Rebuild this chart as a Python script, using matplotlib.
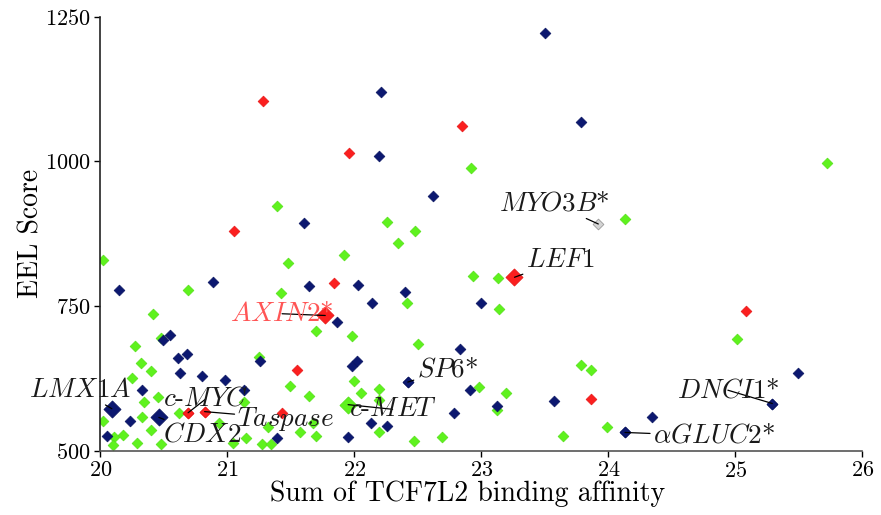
import matplotlib
matplotlib.use("Agg")
import matplotlib.pyplot as plt

plt.rcParams['font.family'] = ['cmr10', 'DejaVu Serif']
plt.rcParams['mathtext.fontset'] = 'cm'
plt.rcParams['axes.formatter.use_mathtext'] = True

# datos (x = suma de afinidad, y = EEL score)
navy_x = [23.50, 22.21, 23.78, 22.19, 22.62, 21.60, 20.15, 20.89, 21.64, 22.03,
          22.14, 22.40, 23.00, 21.86, 22.83, 21.98, 22.02, 22.42, 22.91, 22.78,
          22.13, 22.26, 21.95, 23.12, 23.57, 24.13, 24.34, 25.49, 25.29, 20.49,
          20.55, 20.61, 20.68, 20.63, 20.80, 20.98, 20.33, 20.23, 20.05, 21.13,
          21.26, 21.39]
navy_y = [1221, 1120, 1068, 1010, 941, 893, 778, 791, 785, 786,
          755, 774, 756, 722, 676, 647, 656, 619, 606, 565,
          548, 544, 524, 578, 587, 532, 559, 634, 582, 691,
          700, 661, 668, 635, 630, 623, 605, 552, 526, 605,
          656, 522]

green_x = [25.72, 22.92, 21.39, 22.26, 22.48, 22.34, 24.13, 20.02, 21.92, 21.48,
           20.41, 20.69, 21.42, 22.41, 22.93, 23.13, 23.14, 21.70, 21.98, 22.50,
           21.49, 21.64, 22.00, 22.05, 22.19, 22.19, 22.98, 22.19, 21.67, 21.57,
           21.70, 22.47, 22.69, 23.19, 23.12, 23.78, 23.86, 23.64, 23.99, 25.01,
           20.27, 20.48, 20.32, 20.40, 20.25, 20.34, 20.45, 20.33, 20.40, 20.02,
           20.11, 20.18, 20.10, 20.29, 20.48, 20.62, 20.93, 21.04, 21.15, 21.13,
           21.25, 21.27, 21.34, 21.32]
green_y = [998, 988, 923, 896, 880, 860, 900, 829, 839, 824,
           737, 778, 773, 756, 802, 798, 745, 708, 699, 685,
           613, 595, 620, 600, 607, 588, 611, 532, 549, 532,
           526, 518, 524, 600, 570, 648, 639, 526, 542, 694,
           681, 695, 652, 638, 626, 584, 594, 559, 536, 552,
           525, 528, 511, 513, 512, 565, 548, 513, 522, 585,
           663, 512, 512, 542]

red_x = [21.28, 22.85, 21.96, 21.05, 21.84, 25.08, 21.55, 21.43, 20.69, 20.82, 23.86]
red_y = [1105, 1062, 1014, 880, 790, 742, 640, 565, 566, 568, 589]

# genes marcados: nombre, punto, posicion del texto, color
genes = ['LMX1A', 'c-MYC', 'CDX2', 'Taspase', 'AXIN2*', 'SP6*', 'c-MET',
         'MYO3B*', 'LEF1', 'DNCI1*', 'aGLUC2*']
gen_x = [20.09, 20.69, 20.46, 20.82, 21.77, 22.42, 21.95, 23.92, 23.26, 25.29, 24.13]
gen_y = [573, 566, 558, 568, 734, 619, 580, 892, 800, 582, 532]
gen_col = ['navy', 'red', 'navy', 'red', 'red', 'navy', 'green', 'gray', 'red', 'navy', 'navy']
gen_big = [True, False, True, False, True, False, True, False, True, False, False]
txt_x = [19.84, 20.83, 20.80, 21.46, 21.43, 22.73, 22.30, 23.57, 23.62, 24.94, 24.83]
txt_y = [605, 590, 529, 556, 737, 641, 572, 927, 829, 605, 526]
etiquetas = [r'$LMX1A$', r'$c$-$MYC$', r'$CDX2$', r'$Taspase$', r'$AXIN2$*',
             r'$SP6$*', r'$c$-$MET$', r'$MYO3B$*', r'$LEF1$', r'$DNCI1$*',
             r'$\alpha GLUC2$*']

colores = {'navy': '#0c1870', 'green': '#5ff21e', 'red': '#fb1f1f', 'gray': '#d4d4d4'}
bordes = {'navy': '#0a1560', 'green': '#55e018', 'red': '#e81818', 'gray': '#9a9a9a'}

fig = plt.figure(figsize=(8.81, 5.15), dpi=100)
ax = fig.add_axes([0.114, 0.1243, 0.865, 0.8433])

ax.scatter(green_x, green_y, marker='D', s=30, c=colores['green'],
           edgecolors=bordes['green'], linewidths=0.5, zorder=2)
ax.scatter(navy_x, navy_y, marker='D', s=30, c=colores['navy'],
           edgecolors=bordes['navy'], linewidths=0.5, zorder=3)
ax.scatter(red_x, red_y, marker='D', s=30, c=colores['red'],
           edgecolors=bordes['red'], linewidths=0.5, zorder=4)

for i in range(len(genes)):
    tam = 75 if gen_big[i] else 30
    ax.scatter([gen_x[i]], [gen_y[i]], marker='D', s=tam, c=colores[gen_col[i]],
               edgecolors=bordes[gen_col[i]], linewidths=0.6, zorder=5)
    color_txt = '#ff5555' if genes[i] == 'AXIN2*' else '#1a1a1a'
    ax.annotate(etiquetas[i], xy=(gen_x[i], gen_y[i]), xytext=(txt_x[i], txt_y[i]),
                ha='center', va='center', fontsize=19.5, color=color_txt, zorder=6,
                arrowprops=dict(arrowstyle='-', lw=0.9, color='black',
                                shrinkA=0, shrinkB=0))

ax.set_xlim(20, 26)
ax.set_ylim(500, 1250)
ax.set_xticks([20, 21, 22, 23, 24, 25, 26])
ax.set_yticks([500, 750, 1000, 1250])
ax.tick_params(labelsize=16, direction='out', length=4, width=1, pad=3)
ax.spines['top'].set_visible(False)
ax.spines['right'].set_visible(False)
ax.spines['left'].set_color('#222222')
ax.spines['bottom'].set_color('#555555')
ax.spines['left'].set_linewidth(1.2)
ax.spines['bottom'].set_linewidth(1.2)

ax.set_xlabel('Sum of TCF7L2 binding affinity', fontsize=20)
ax.set_ylabel('EEL Score', fontsize=20)
ax.xaxis.set_label_coords(0.482, -0.067)
ax.yaxis.set_label_coords(-0.074, 0.5)

fig.savefig('out.png', dpi=100)
